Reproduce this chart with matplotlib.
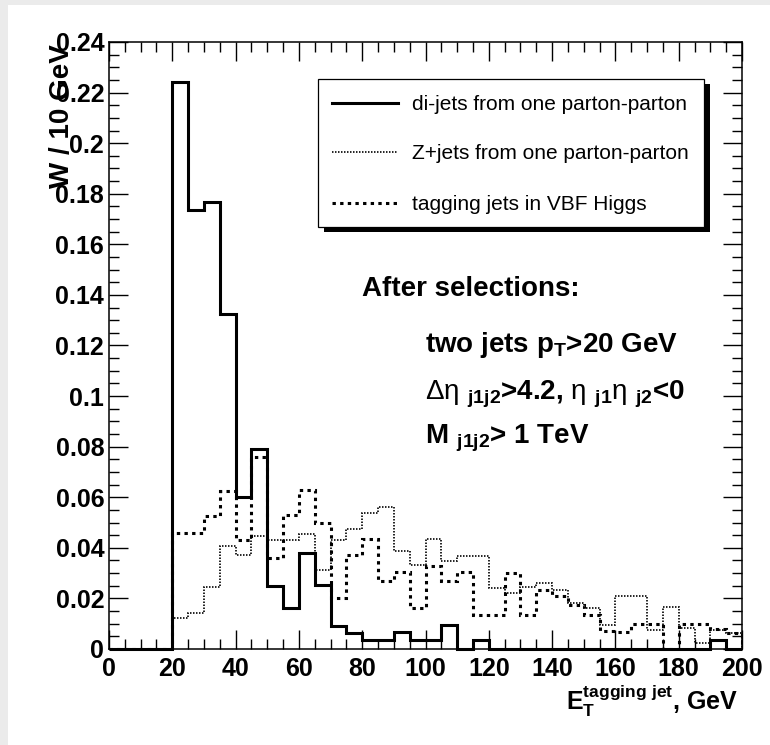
import matplotlib
matplotlib.use("Agg")
import matplotlib.pyplot as plt
from matplotlib.lines import Line2D
from matplotlib.patches import Rectangle
from matplotlib.ticker import MultipleLocator, FuncFormatter
import numpy as np

plt.rcParams["font.family"] = ["Liberation Sans", "DejaVu Sans"]
plt.rcParams["mathtext.fontset"] = "custom"
plt.rcParams["mathtext.rm"] = "Liberation Sans"
plt.rcParams["mathtext.bf"] = "Liberation Sans:bold"
plt.rcParams["mathtext.it"] = "Liberation Sans:bold"
plt.rcParams["mathtext.default"] = "bf"

W, H = 770, 745

# 5 GeV bins from 0 to 200 GeV
bin_width = 5
n_bins = 40

dijet = [0, 0, 0, 0, 0.224, 0.1736, 0.1769, 0.1325,
         0.060, 0.079, 0.025, 0.0162, 0.038, 0.0254, 0.0089, 0.0063,
         0.0037, 0.0037, 0.0066, 0.0037, 0.0037, 0.0093, 0, 0.0035,
         0, 0, 0, 0, 0, 0, 0, 0,
         0, 0, 0, 0, 0, 0, 0.0035, 0]

zjets = [0, 0, 0, 0, 0.0122, 0.0142, 0.0247, 0.0406,
         0.0373, 0.0445, 0.043, 0.0432, 0.0456, 0.0311, 0.0432, 0.0474,
         0.0538, 0.056, 0.0386, 0.0333, 0.0435, 0.0346, 0.0369, 0.0369,
         0.024, 0.022, 0.0247, 0.026, 0.0234, 0.0182, 0.0162, 0.0096,
         0.021, 0.021, 0.0076, 0.0168, 0.0083, 0.0024, 0.0076, 0.0063]

vbf = [0, 0, 0, 0, 0.046, 0.046, 0.0527, 0.0623,
       0.043, 0.0761, 0.036, 0.0531, 0.063, 0.0498, 0.0202, 0.0373,
       0.0435, 0.0267, 0.0303, 0.0162, 0.0329, 0.0267, 0.0303, 0.0136,
       0.0136, 0.030, 0.0136, 0.0234, 0.021, 0.0175, 0.0136, 0.007,
       0.0067, 0.0099, 0.0099, 0, 0.0099, 0.0099, 0.0079, 0.0064]

labels = ["di-jets from one parton-parton",
          "Z+jets from one parton-parton",
          "tagging jets in VBF Higgs"]

edges = np.arange(n_bins + 1) * bin_width

styles = [
    dict(color="black", lw=2.2, linestyle="-"),
    dict(color="black", lw=1.2, linestyle=(0, (0.9, 0.9))),
    dict(color="black", lw=2.2, linestyle=(0, (1.1, 1.4))),
]


def px(x, y):
    return x / W, 1 - y / H


fig = plt.figure(figsize=(W / 100, H / 100), dpi=100)
fig.patch.set_facecolor("#ebebeb")
fig.add_artist(Rectangle(px(8, H), 1, 1 - 5 / H, transform=fig.transFigure,
                         facecolor="white", edgecolor="none", zorder=-5))

ax = fig.add_axes([109 / W, 1 - 649 / H, (742 - 109) / W, (649 - 42) / H])
ax.stairs(zjets, edges, baseline=0, zorder=2, **styles[1])
ax.stairs(vbf, edges, baseline=0, zorder=3, **styles[2])
ax.stairs(dijet, edges, baseline=0, zorder=4, clip_on=False, **styles[0])

ax.set_xlim(0, 200)
ax.set_ylim(0, 0.24)
ax.xaxis.set_major_locator(MultipleLocator(20))
ax.xaxis.set_minor_locator(MultipleLocator(5))
ax.yaxis.set_major_locator(MultipleLocator(0.02))
ax.yaxis.set_minor_locator(MultipleLocator(0.005))
ax.yaxis.set_major_formatter(FuncFormatter(lambda v, p: f"{v:g}"))
ax.tick_params(which="both", direction="in", top=True, right=True, width=1.0)
ax.tick_params(which="major", length=13.5)
ax.tick_params(which="minor", length=7)
ax.tick_params(axis="x", pad=5.5, labelsize=18)
ax.tick_params(axis="y", pad=3.5, labelsize=18)
for lab in ax.get_xticklabels() + ax.get_yticklabels():
    lab.set_fontweight("bold")
for sp in ax.spines.values():
    sp.set_linewidth(1.1)

# axis titles
fig.text(*px(738, 710), r"$E_{T}^{tagging\ jet}$, GeV", ha="right",
         va="baseline", fontsize=18, fontweight="bold")
fig.text(*px(62, 44), "W / 10 GeV", rotation=90, ha="center", va="top",
         fontsize=20, fontweight="bold")

# legend box with ROOT-like shadow
bx0, by0, bx1, by1 = 317.7, 79.3, 704, 226.7
fig.add_artist(Rectangle(px(bx0 + 6, by1 + 5), (bx1 - bx0) / W, (by1 - by0) / H,
                         transform=fig.transFigure, facecolor="black",
                         edgecolor="none", zorder=5))
fig.add_artist(Rectangle(px(bx0, by1), (bx1 - bx0) / W, (by1 - by0) / H,
                         transform=fig.transFigure, facecolor="white",
                         edgecolor="black", lw=0.9, zorder=6))
for row_y, lab, st in zip([103, 151.7, 203], labels, styles):
    x0, y0 = px(331.7, row_y)
    x1, _ = px(398, row_y)
    fig.add_artist(Line2D([x0, x1], [y0, y0], transform=fig.transFigure,
                          zorder=7, **st))
    fig.text(*px(411.7, row_y), lab, ha="left", va="center_baseline",
             fontsize=15, zorder=7)

# selection text
fig.text(*px(361.8, 296), "After selections:", fontsize=20,
         fontweight="bold", va="baseline")
fig.text(*px(425, 352), r"two jets p$_{T}$>20 GeV", fontsize=20,
         fontweight="bold", va="baseline")
fig.text(*px(425, 400),
         r"$\mathrm{\Delta\eta}\ _{j1j2}$>4.2, $\mathrm{\eta}\ _{j1}\mathrm{\eta}\ _{j2}$<0",
         fontsize=20, fontweight="bold", va="baseline")
fig.text(*px(425, 443), r"M$\ _{j1j2}$> 1 TeV", fontsize=20,
         fontweight="bold", va="baseline")

fig.savefig("out.png", dpi=100, facecolor=fig.get_facecolor())
